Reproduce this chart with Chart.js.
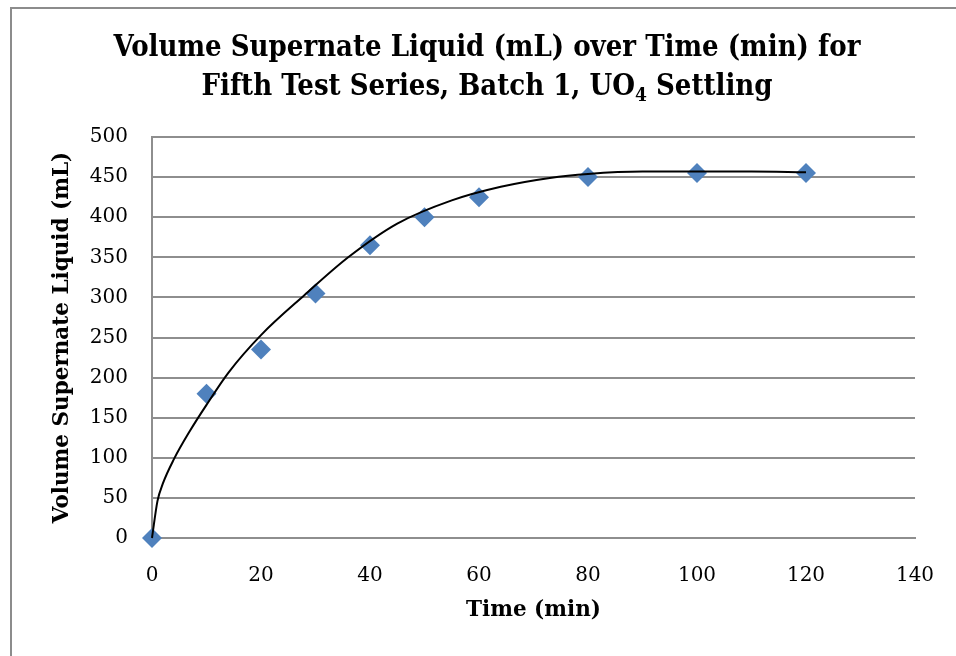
<!DOCTYPE html>
<html>
<head>
<meta charset="utf-8">
<script src="https://cdn.jsdelivr.net/npm/chart.js@4.4.1/dist/chart.umd.min.js"></script>
<style>
  html, body { margin: 0; padding: 0; background: #fff; }
  #wrap { position: relative; width: 956px; height: 656px; overflow: hidden; }
  #frame { position: absolute; left: 10px; top: 7px; width: 960px; height: 660px;
           border-left: 2px solid #8c8c8c; border-top: 2px solid #8c8c8c; }
  #title { position: absolute; left: 0; top: 27px; width: 974px; text-align: center;
           font-family: "DejaVu Serif Condensed", "DejaVu Serif", serif; font-weight: bold;
           font-size: 29px; line-height: 39px; color: #000; }
  #title sub { font-size: 19px; line-height: 0; vertical-align: -6px; }
  canvas { position: absolute; left: 0; top: 0; }
</style>
</head>
<body>
<div id="wrap">
  <div id="frame"></div>
  <canvas id="c" width="956" height="656"></canvas>
  <div id="title">Volume Supernate Liquid (mL) over Time (min) for<br>Fifth Test Series, Batch 1, UO<sub>4</sub> Settling</div>
</div>
<script>
// measured points
const timeMin = [0, 10, 20, 30, 40, 50, 60, 80, 100, 120];
const volumeMl = [0, 180, 235, 305, 365, 400, 425, 450, 455, 455];

// trend curve
const curveX = [0, 1, 2, 4, 7, 10, 14, 20, 28, 36, 45, 55, 64, 73, 80, 90, 100, 110, 120];
const curveY = [0, 46, 68, 98, 134, 166, 206, 253, 303, 350, 392, 421, 438, 449, 454, 457, 457, 457, 456];

const xTicks = [0, 20, 40, 60, 80, 100, 120, 140];
const yTicks = [0, 50, 100, 150, 200, 250, 300, 350, 400, 450, 500];

const gridGray = '#8e8e8e';
const tickFont = { family: '"DejaVu Serif", serif', size: 20 };
const axisTitleFont = { family: '"DejaVu Serif", serif', size: 21.5, weight: 'bold' };

new Chart(document.getElementById('c'), {
  type: 'scatter',
  data: {
    datasets: [
      {
        label: 'trend',
        data: curveX.map((x, i) => ({ x, y: curveY[i] })),
        showLine: true,
        borderColor: '#000',
        borderWidth: 2,
        pointRadius: 0,
        cubicInterpolationMode: 'monotone',
        clip: false,
        order: 1
      },
      {
        label: 'data',
        data: timeMin.map((x, i) => ({ x, y: volumeMl[i] })),
        pointStyle: 'rectRot',
        pointRadius: 10,
        backgroundColor: '#4f81bd',
        borderColor: '#4f81bd',
        borderWidth: 0,
        clip: false,
        order: 2
      }
    ]
  },
  options: {
    responsive: false,
    animation: false,
    events: [],
    layout: { padding: { left: 0, top: 137, right: 41, bottom: 0 } },
    plugins: { legend: { display: false }, title: { display: false }, tooltip: { enabled: false } },
    scales: {
      x: {
        type: 'linear', min: 0, max: 140,
        afterBuildTicks: s => { s.ticks = xTicks.map(v => ({ value: v })); },
        afterFit: s => { s.height = 118; s.paddingLeft = 0; s.paddingRight = 0; },
        grid: { display: false, drawTicks: false },
        border: { display: true, color: gridGray, width: 2 },
        ticks: { color: '#000', font: tickFont, padding: 26, maxRotation: 0 },
        title: { display: true, text: 'Time (min)', color: '#000', font: axisTitleFont, padding: { bottom: 33 } }
      },
      y: {
        type: 'linear', min: 0, max: 500,
        afterBuildTicks: s => { s.ticks = yTicks.map(v => ({ value: v })); },
        afterFit: s => { s.width = 152; s.paddingTop = 0; s.paddingBottom = 0; },
        grid: { color: gridGray, lineWidth: 2, drawTicks: false },
        border: { display: true, color: gridGray, width: 2 },
        ticks: { color: '#000', font: tickFont, padding: 24 },
        title: { display: true, text: 'Volume Supernate Liquid (mL)', color: '#000', font: axisTitleFont, padding: { top: 50 } }
      }
    }
  }
});
</script>
</body>
</html>
